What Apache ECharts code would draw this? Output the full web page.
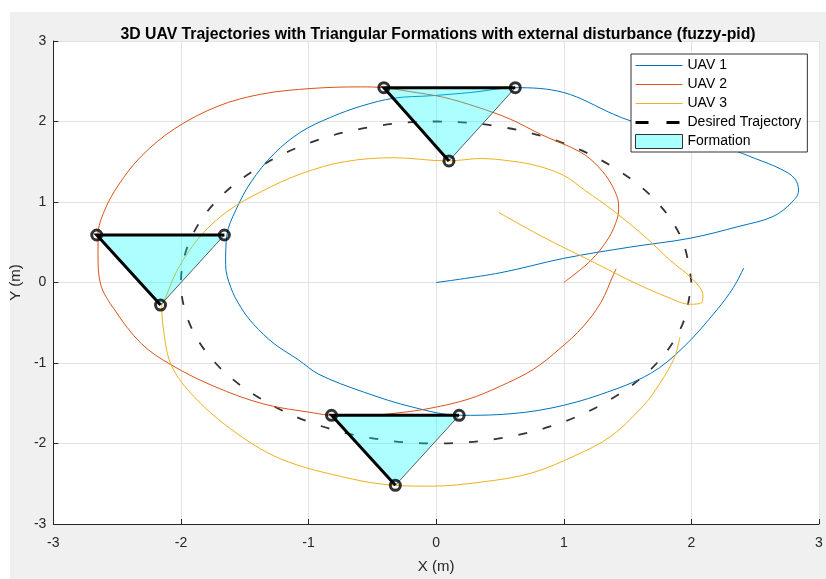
<!DOCTYPE html>
<html>
<head>
<meta charset="utf-8">
<script src="https://cdn.jsdelivr.net/npm/echarts@6/dist/echarts.min.js"></script>
<style>
html,body{margin:0;padding:0;background:#fff;}
#chart{width:826px;height:579px;}
</style>
</head>
<body>
<div id="chart"></div>
<script>
// ---- data ----
const xTicks = [-3, -2, -1, 0, 1, 2, 3];
const yTicks = [-3, -2, -1, 0, 1, 2, 3];

const uav1Points = [[0,0],[0.50,0.12],[1.00,0.30],[1.52,0.44],[1.99,0.55],[2.38,0.70],[2.64,0.82],[2.79,1.00],[2.84,1.14],[2.81,1.29],[2.70,1.41],[2.50,1.54],[2.30,1.66],[1.91,1.84],[1.52,2.01],[1.39,2.09],[1.00,2.36],[0.62,2.42],[0.27,2.36],[-0.04,2.32],[-0.33,2.29],[-0.59,2.19],[-0.83,2.05],[-1.06,1.87],[-1.27,1.60],[-1.45,1.25],[-1.57,0.90],[-1.64,0.59],[-1.65,0.22],[-1.61,-0.06],[-1.53,-0.31],[-1.43,-0.52],[-1.27,-0.76],[-1.08,-0.96],[-0.92,-1.14],[-0.57,-1.36],[-0.18,-1.55],[0.19,-1.65],[0.50,-1.64],[0.90,-1.56],[1.29,-1.39],[1.68,-1.13],[1.94,-0.80],[2.20,-0.34],[2.33,-0.06],[2.41,0.18]];

const uav2Points = [[1.00,0.00],[1.21,0.27],[1.35,0.55],[1.42,0.80],[1.43,0.95],[1.38,1.20],[1.27,1.44],[1.13,1.62],[0.82,1.84],[0.58,2.03],[0.32,2.18],[0.06,2.30],[-0.20,2.37],[-0.41,2.42],[-0.59,2.43],[-0.98,2.41],[-1.37,2.34],[-1.71,2.19],[-2.05,1.91],[-2.31,1.57],[-2.49,1.21],[-2.60,0.89],[-2.65,0.59],[-2.65,0.34],[-2.63,-0.02],[-2.52,-0.34],[-2.31,-0.76],[-2.08,-1.02],[-1.74,-1.29],[-1.35,-1.51],[-0.96,-1.62],[-0.81,-1.65],[-0.55,-1.65],[-0.30,-1.62],[-0.04,-1.56],[0.25,-1.45],[0.50,-1.29],[0.76,-1.08],[0.97,-0.82],[1.15,-0.55],[1.29,-0.25],[1.39,0.10],[1.41,0.17]];

const uav3Points = [[0.49,0.87],[0.82,0.58],[1.21,0.27],[1.55,0.00],[1.81,-0.18],[1.99,-0.27],[2.08,-0.25],[2.09,-0.16],[2.01,0.04],[1.83,0.28],[1.65,0.55],[1.39,0.89],[1.17,1.14],[1.00,1.33],[0.79,1.45],[0.58,1.51],[0.35,1.54],[0.09,1.51],[-0.33,1.55],[-0.72,1.50],[-1.06,1.35],[-1.37,1.13],[-1.63,0.89],[-1.84,0.59],[-2.02,0.18],[-2.13,-0.22],[-2.15,-0.28],[-2.14,-0.55],[-2.08,-1.01],[-1.92,-1.38],[-1.61,-1.82],[-1.22,-2.19],[-0.69,-2.43],[-0.32,-2.52],[-0.04,-2.53],[0.35,-2.48],[0.74,-2.37],[1.09,-2.15],[1.37,-1.91],[1.60,-1.57],[1.70,-1.38],[1.86,-0.96],[1.91,-0.68]];

const desiredPoints = [[2,0],[1.93,0.52],[1.73,1.0],[1.41,1.41],[1.0,1.73],[0.52,1.93],[0,2],[-0.52,1.93],[-1,1.73],[-1.41,1.41],[-1.73,1],[-1.93,0.52],[-2,0],[-1.93,-0.52],[-1.73,-1],[-1.41,-1.41],[-1,-1.73],[-0.52,-1.93],[0,-2],[0.52,-1.93],[1,-1.73],[1.41,-1.41],[1.73,-1],[1.93,-0.52],[2,0]];

// each formation: [corner with two thick edges, second vertex, third vertex]
const formation1 = [[-0.41,2.42],[0.62,2.42],[0.10,1.51]];
const formation2 = [[-2.66,0.59],[-1.66,0.59],[-2.16,-0.28]];
const formation3 = [[-0.82,-1.65],[0.18,-1.65],[-0.32,-2.52]];

const seriesNames = ['UAV 1','UAV 2','UAV 3','Desired Trajectory','Formation'];
const seriesColors = ['#0072BD','#D95319','#EDB120','#000000','#AAFFFF'];

// ---- chart ----
const formations = [formation1, formation2, formation3];
const chart = echarts.init(document.getElementById('chart'), null, {renderer:'canvas'});
const FONT = "'Liberation Sans', Arial, Helvetica, sans-serif";
const axisCol = '#262626';

function trajSeries(i, pts) {
  return {
    type:'line', name:seriesNames[i], data:pts, smooth:0.35, symbol:'none',
    lineStyle:{color:seriesColors[i], width:1},
    itemStyle:{color:seriesColors[i]}, z:3, animation:false
  };
}
const hiddenSymbol = {color:'rgba(0,0,0,0)', borderWidth:0, opacity:0};

const option = {
  animation:false,
  backgroundColor:'transparent',
  graphic:[{type:'rect', left:10, top:12, shape:{width:816, height:567}, style:{fill:'#f0f0f0'}, z:-10, silent:true}],
  title:{
    text:'3D UAV Trajectories with Triangular Formations with external disturbance (fuzzy-pid)',
    left:433, top:22, textAlign:'center',
    textStyle:{fontFamily:FONT, fontSize:15.8, fontWeight:'bold', color:'#000'}
  },
  grid:{left:52, right:7, top:41, bottom:50, show:true, backgroundColor:'#ffffff', borderWidth:0},
  xAxis:{
    type:'value', min:-3, max:3, interval:1,
    name:'X (m)', nameLocation:'middle', nameGap:35,
    nameTextStyle:{fontFamily:FONT, fontSize:15, color:axisCol},
    axisLine:{show:true, onZero:false, lineStyle:{color:axisCol, width:1}},
    axisTick:{show:true, inside:true, length:5, lineStyle:{color:axisCol}},
    axisLabel:{fontFamily:FONT, fontSize:14, color:axisCol, margin:12,
      formatter:v=>xTicks.includes(v)?String(v):''},
    splitLine:{show:true, lineStyle:{color:'#e3e3e3', width:1}}
  },
  yAxis:{
    type:'value', min:-3, max:3, interval:1,
    name:'Y (m)', nameLocation:'middle', nameGap:24,
    nameTextStyle:{fontFamily:FONT, fontSize:15, color:axisCol},
    axisLine:{show:true, onZero:false, lineStyle:{color:axisCol, width:1}},
    axisTick:{show:true, inside:true, length:5, lineStyle:{color:axisCol}},
    axisLabel:{fontFamily:FONT, fontSize:14, color:axisCol, margin:7,
      formatter:v=>yTicks.includes(v)?String(v):''},
    splitLine:{show:true, lineStyle:{color:'#e3e3e3', width:1}}
  },
  legend:{
    orient:'vertical', left:631, top:54,
    backgroundColor:'#ffffff', borderColor:'#333333', borderWidth:1,
    padding:[4,6,3,3], itemGap:4, itemWidth:47, itemHeight:14,
    textStyle:{fontFamily:FONT, fontSize:14, color:'#000', lineHeight:15},
    data:[
      {name:'UAV 1', itemStyle:hiddenSymbol, lineStyle:{width:1, color:seriesColors[0]}},
      {name:'UAV 2', itemStyle:hiddenSymbol, lineStyle:{width:1, color:seriesColors[1]}},
      {name:'UAV 3', itemStyle:hiddenSymbol, lineStyle:{width:1, color:seriesColors[2]}},
      {name:'Desired Trajectory', itemStyle:hiddenSymbol, lineStyle:{width:3, type:[13,18], color:'#000'}},
      {name:'Formation', icon:'rect', itemStyle:{color:'#AAFFFF', borderColor:'#333', borderWidth:1}}
    ]
  },
  series:[
    trajSeries(0, uav1Points),
    trajSeries(1, uav2Points),
    trajSeries(2, uav3Points),
    {
      type:'line', name:seriesNames[3], data:desiredPoints, smooth:0.35, symbol:'none',
      lineStyle:{color:'#333', width:1.8, type:[9,16]}, itemStyle:{color:'#000'}, z:2
    },
    {
      type:'custom', name:seriesNames[4], coordinateSystem:'cartesian2d',
      itemStyle:{color:'#AAFFFF'},
      data:formations.map(t=>[t[0][0],t[0][1],t[1][0],t[1][1],t[2][0],t[2][1]]),
      encode:{x:[0,2,4], y:[1,3,5]},
      renderItem:function(params, api){
        const p1 = api.coord([api.value(0), api.value(1)]);
        const p2 = api.coord([api.value(2), api.value(3)]);
        const p3 = api.coord([api.value(4), api.value(5)]);
        return {type:'group', children:[
          {type:'polygon', shape:{points:[p1,p2,p3]}, style:{fill:'rgba(0,255,255,0.32)', stroke:null}},
          {type:'line', shape:{x1:p2[0],y1:p2[1],x2:p3[0],y2:p3[1]}, style:{stroke:'#333', lineWidth:0.8}},
          {type:'polyline', shape:{points:[p2,p1,p3]}, style:{stroke:'#000', lineWidth:3, fill:null}}
        ]};
      },
      z:5
    },
    {
      type:'scatter', name:'vertices', data:formations.flat(), symbol:'circle', symbolSize:10,
      itemStyle:{color:'rgba(255,255,255,0)', borderColor:'#000', borderWidth:3}, z:6,
      silent:true
    }
  ]
};
chart.setOption(option);
</script>
</body>
</html>
